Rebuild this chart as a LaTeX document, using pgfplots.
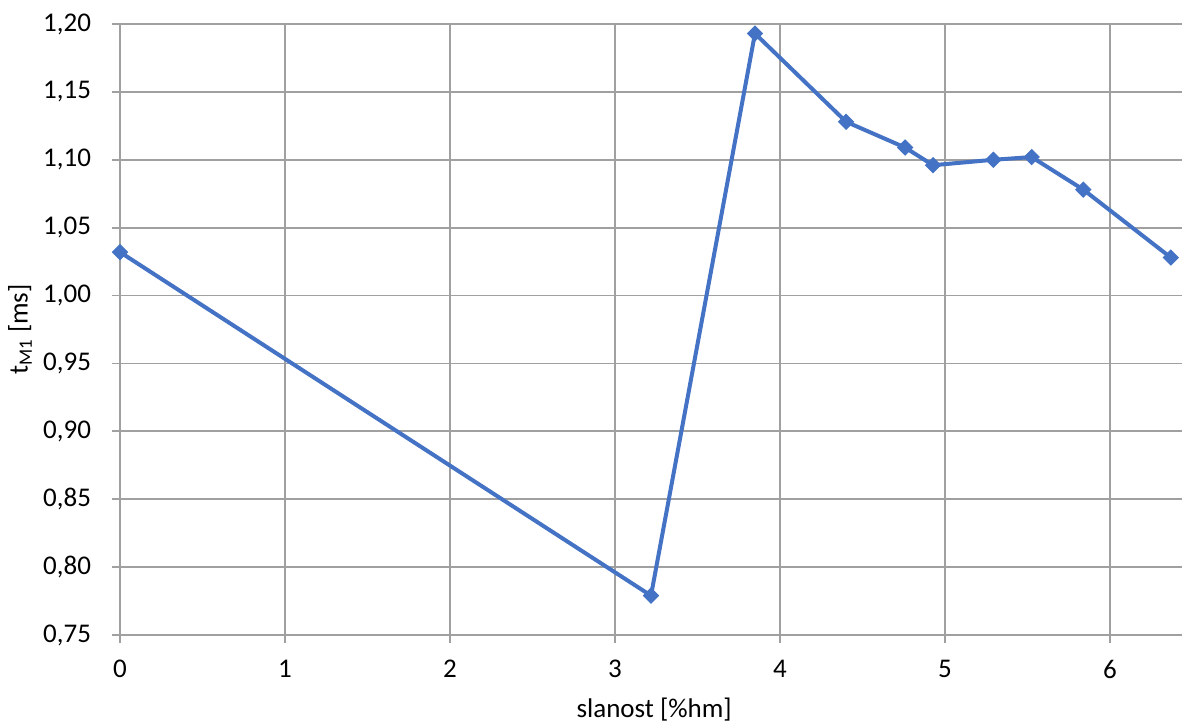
\documentclass[border=0pt]{standalone}
\usepackage{fontspec}
\setmainfont{Carlito}
\usepackage{pgfplots}
\pgfplotsset{compat=1.18}
\definecolor{lineblue}{HTML}{4472C4}
\definecolor{gridgray}{HTML}{A0A0A0}
\begin{document}
\begin{tikzpicture}[x=1pt,y=1pt]
\begin{axis}[
  scale only axis,
  width=531pt, height=305.5pt,
  xmin=0, xmax=6.436,
  ymin=0.75, ymax=1.20,
  xtick={0,1,2,3,4,5,6},
  ytick={0.75,0.80,0.85,0.90,0.95,1.00,1.05,1.10,1.15,1.20},
  grid=major,
  major grid style={gridgray, line width=0.9pt},
  axis line style={draw=none},
  tick style={gridgray, line width=0.9pt},
  tick align=outside,
  major tick length=4pt,
  xtick pos=bottom, ytick pos=left,
  font=\fontsize{13.5}{16}\selectfont,
  tick label style={font=\fontsize{13.5}{16}\selectfont, text=black},
  /pgf/number format/assume math mode=true,
  yticklabel style={xshift=-7pt, /pgf/number format/.cd, use comma, fixed, fixed zerofill, precision=2},
  xticklabel style={yshift=-5pt, /pgf/number format/.cd, use comma, fixed},
  xlabel={slanost [\%hm]},
  ylabel={t\textsubscript{M1} [ms]},
  xlabel style={at={(axis description cs:0.503,0)}, anchor=center, yshift=-37.5pt},
  ylabel style={at={(axis description cs:-0.0942,0.5)}, anchor=center},
  clip=false,
]
\addplot[color=lineblue, line width=2pt, mark=square*, mark size=2.65pt, mark options={rotate=45, fill=lineblue, draw=lineblue, line width=0.5pt}]
coordinates {
(0,1.032)
(3.218,0.779)
(3.848,1.193)
(4.400,1.128)
(4.758,1.109)
(4.927,1.096)
(5.293,1.100)
(5.525,1.102)
(5.838,1.078)
(6.368,1.028)
};
\end{axis}
\pgfresetboundingbox
\path[use as bounding box] (-60pt,-43.5pt) rectangle (531pt,317.5pt);
\end{tikzpicture}
\end{document}
